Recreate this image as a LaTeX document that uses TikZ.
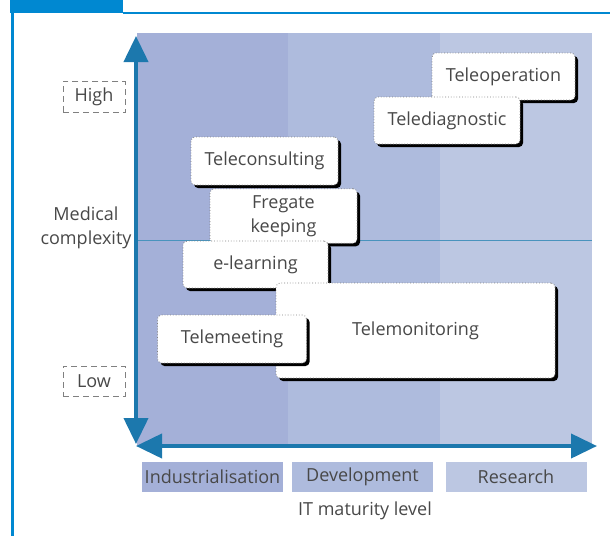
\documentclass[tikz,border=0pt]{standalone}
\usepackage{fontspec}
\setmainfont{Open Sans}
\usetikzlibrary{arrows.meta,shadows}

\definecolor{figblue}{RGB}{0,136,209}
\definecolor{axisblue}{RGB}{28,120,173}
\definecolor{zoneind}{RGB}{164,176,216}
\definecolor{zonedev}{RGB}{174,187,221}
\definecolor{zoneres}{RGB}{188,199,226}
\definecolor{txtgray}{RGB}{72,72,72}

\def\unitpx{0.5pt}

\begin{document}
\begin{tikzpicture}[x=\unitpx, y=-\unitpx, font=\fontsize{9}{12}\selectfont, text=txtgray]
    \tikzstyle{activity}=[draw=gray, densely dotted, fill=white, rounded corners=2pt, align=center,
        drop shadow={shadow xshift=1.5pt, shadow yshift=-1.5pt, fill=black, opacity=1}]
    \tikzstyle{level}=[draw=gray, densely dashed, fill=white, minimum width=62*\unitpx, minimum height=30*\unitpx]
    \tikzstyle{stage}=[minimum width=141*\unitpx, minimum height=30*\unitpx, inner sep=0pt]
    \tikzstyle{axis}=[axisblue, line width=2pt, {Triangle[width=12pt,length=13pt]}-{Triangle[width=12pt,length=13pt]}]

    \useasboundingbox (0,0) rectangle (610,536);

    % Frame of the figure
    \fill[figblue] (10,0) rectangle (123,13);
    \draw[figblue, line width=1pt] (123,12.5) -- (610,12.5);
    \draw[figblue, line width=1.5pt] (12.5,12) -- (12.5,536);

    % Draw the three maturity zones
    \foreach \name/\xa/\xb in {ind/137/288, dev/288/440, res/440/592}
        \fill[zone\name] (\xa,33) rectangle (\xb,446);

    % Middle line of the grid
    \draw[axisblue!80, line width=0.4pt] (137,240) -- (592,240);

    % Draw the axes
    \coordinate (O) at (136,444);
    \coordinate (Ytop) at (136,36);
    \coordinate (Xend) at (597,446);
    \draw[axis] (O) -- (Ytop);
    \draw[axis] ([yshift=-1pt]O) -- (Xend);

    % Level labels
    \node[level] (high) at (94,97) {High};
    \node[level] (low) at (94,381) {Low};
    \node[align=center] (medical) at (86,228) {Medical\\complexity};

    % Stages along the maturity axis
    \foreach \name/\x/\stage in {ind/212.5/Industrialisation, dev/362.5/Development, res/516/Research}
        \node[stage, fill=zone\name] (\name) at (\x,477) {\stage};
    \node (maturity) at (365,511) {IT maturity level};

    % Draw the applications
    \node[activity, minimum width=143*\unitpx, minimum height=47*\unitpx] (teleop) at (503.5,76.5) {Teleoperation};
    \node[activity, minimum width=146*\unitpx, minimum height=47*\unitpx] (telediag) at (447,120.5) {Telediagnostic};
    \node[activity, minimum width=147*\unitpx, minimum height=48*\unitpx] (teleconsult) at (264.5,161) {Teleconsulting};
    \node[activity, minimum width=147*\unitpx, minimum height=48*\unitpx] (fregate) at (283.5,216) {Fregate\\keeping};
    \node[activity, minimum width=145*\unitpx, minimum height=47*\unitpx] (elearn) at (255.5,264.5) {e-learning};
    \node[activity, minimum width=279*\unitpx, minimum height=95*\unitpx] (telemonit) at (415.5,330.5) {Telemonitoring};
    \node[activity, minimum width=149*\unitpx, minimum height=48*\unitpx] (telemeet) at (232,339) {Telemeeting};
\end{tikzpicture}
\end{document}
